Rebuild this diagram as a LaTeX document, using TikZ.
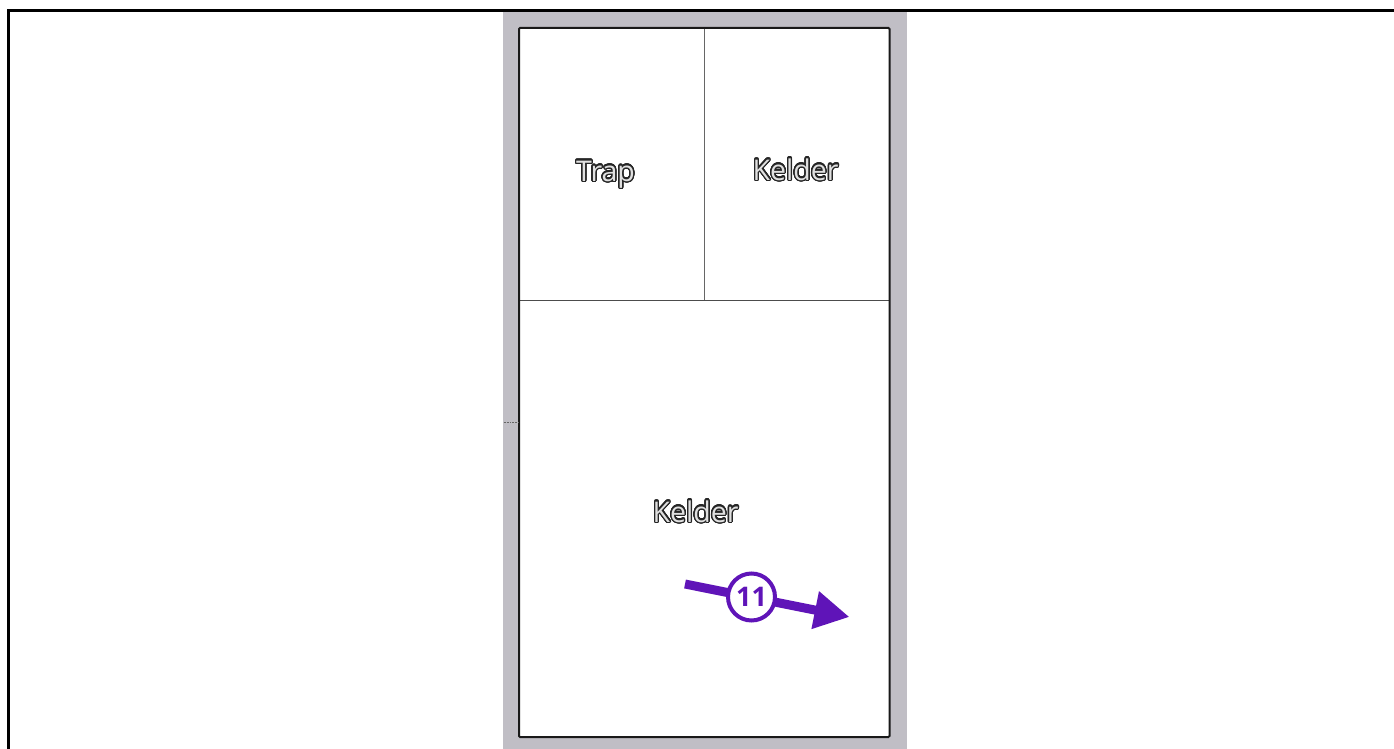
\documentclass[tikz,border=0pt]{standalone}
\usepackage{fontspec}
\setmainfont{Open Sans}
\usepackage{contour}
\usetikzlibrary{arrows.meta}
\definecolor{kadergrijs}{RGB}{192,190,197}
\definecolor{pijlpaars}{RGB}{95,20,184}
\contourlength{1.3pt}
\contournumber{32}
\tikzset{
    ruimte/.style={inner sep=0pt, font=\fontsize{28.5}{32}\selectfont},
    pijl/.style={pijlpaars, line width=9pt, -{Triangle[length=35pt,width=36pt]}},
    nummer/.style={draw=pijlpaars, line width=4pt, fill=white, circle, minimum size=47pt, inner sep=0pt, text=pijlpaars, font=\fontsize{27}{29}\selectfont\bfseries}
}
\newcommand{\omlijnd}[1]{\contour{black!85}{\textcolor{black!12}{#1}}}
\begin{document}
\begin{tikzpicture}[x=1pt,y=-1pt]
    \useasboundingbox (0,0) rectangle (1394,749);
    \fill[white] (0,0) rectangle (1394,749);

    \fill[kadergrijs] (503,12) rectangle (907,749);
    \draw[line width=3pt] (8,749) -- (8,11) -- (1394,11);

    \draw[white, fill=white] (519,28) rectangle (889.5,737);
    \draw[black!60, line width=1pt] (704,28) -- (704,300);
    \draw[black!70, line width=1pt] (519,300) -- (889.5,300);
    \draw[black!90, line width=2pt, rounded corners=1pt] (519,28) rectangle (889.5,737);
    \draw[black!60, line width=0.6pt, densely dotted] (503.5,422) -- (518,422);

    \node[ruimte] (trap) at (605.5,175) {\omlijnd{Trap}};
    \node[ruimte] (kelderboven) at (795.5,170) {\omlijnd{Kelder}};
    \node[ruimte] (kelderonder) at (695.5,512) {\omlijnd{Kelder}};

    \coordinate (pijlstart) at (685,584);
    \coordinate (pijleind) at (849.5,617);
    \draw[pijl] (pijlstart) -- (pijleind);
    \node[nummer] (elf) at (751.5,597) {11};
\end{tikzpicture}
\end{document}
